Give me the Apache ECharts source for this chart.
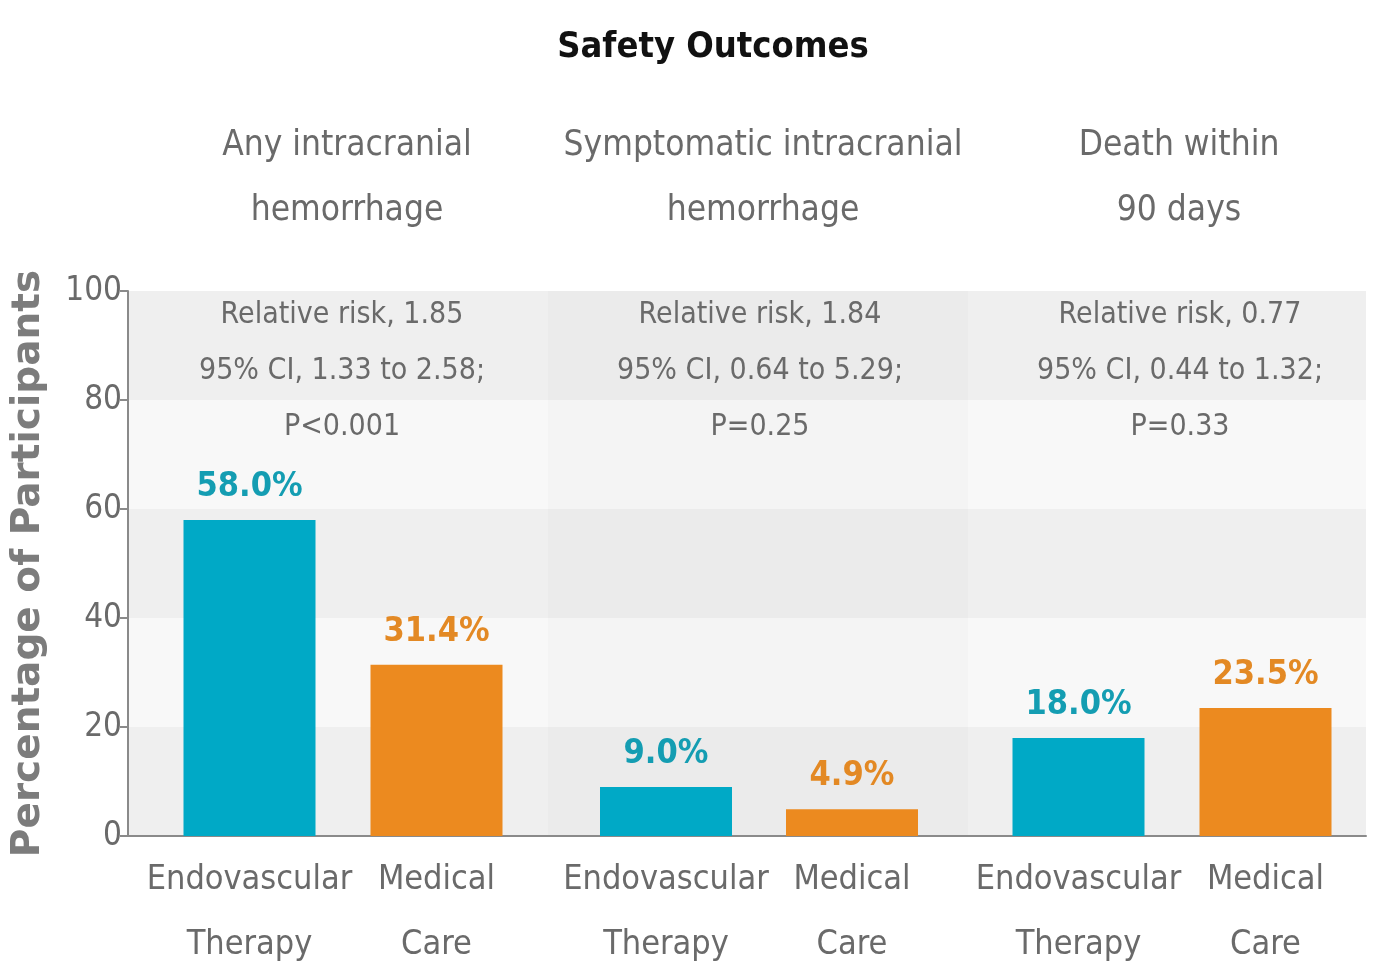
<!DOCTYPE html>
<html>
<head>
<meta charset="utf-8">
<script src="https://cdn.jsdelivr.net/npm/echarts@6/dist/echarts.min.js"></script>
<style>
  html, body { margin: 0; padding: 0; background: #fff; }
  #chart { width: 1374px; height: 977px; }
</style>
</head>
<body>
<div id="chart"></div>
<script>
// data
const categories = ['Endovascular\nTherapy', 'Medical\nCare'];
const outcomes = ['Any intracranial\nhemorrhage', 'Symptomatic intracranial\nhemorrhage', 'Death within\n90 days'];
const riskNotes = [
  'Relative risk, 1.85\n95% CI, 1.33 to 2.58;\nP<0.001',
  'Relative risk, 1.84\n95% CI, 0.64 to 5.29;\nP=0.25',
  'Relative risk, 0.77\n95% CI, 0.44 to 1.32;\nP=0.33'
];
const endovascular = [58.0, 9.0, 18.0];
const medical = [31.4, 4.9, 23.5];
const yTicks = [0, 20, 40, 60, 80, 100];

const narrow = "'DejaVu Sans Condensed', 'Liberation Sans Narrow', Roboto, sans-serif";
const teal = '#00a9c6';
const orange = '#ec8a1f';
const gray = '#6a6a6a';

// layout
const gridTop = 291, gridBottom = 141;
const panels = [[128, 548], [548, 968], [968, 1366]];
const barBoxes = [[156, 530], [573, 945], [985, 1359]];
const headerX = [342, 758, 1174];
const noteX = [337, 755, 1175];

let chartDom = document.getElementById('chart');
let myChart = echarts.init(chartDom);

let grids = [], xAxes = [], yAxes = [], series = [], titles = [];

titles.push({
  text: 'Safety Outcomes',
  left: 708,
  textAlign: 'center',
  top: 25,
  textStyle: { fontFamily: narrow, fontSize: 36, fontWeight: 'bold', color: '#111' }
});

panels.forEach((p, i) => {
  // background panel with bands
  grids.push({ left: p[0], width: p[1] - p[0], top: gridTop, bottom: gridBottom, outerBoundsMode: 'none' });
  xAxes.push({
    gridIndex: grids.length - 1, type: 'value', min: 0, max: 1,
    axisLine: { show: true, lineStyle: { color: '#8a8a8a', width: 2 } },
    axisTick: { show: false }, axisLabel: { show: false }, splitLine: { show: false }
  });
  yAxes.push({
    gridIndex: grids.length - 1, type: 'value', min: 0, max: 100, interval: 20,
    axisLine: { show: i === 0, lineStyle: { color: '#8a8a8a', width: 2 } },
    axisTick: { show: i === 0, length: 8, lineStyle: { color: '#8a8a8a', width: 2 } },
    axisLabel: {
      show: i === 0, margin: 6, fontFamily: narrow, fontSize: 33, color: gray,
      formatter: v => yTicks.indexOf(v) >= 0 ? String(v) : ''
    },
    name: i === 0 ? 'Percentage of Participants' : '',
    nameLocation: 'middle', nameGap: 80,
    nameTextStyle: { fontFamily: "'DejaVu Sans', sans-serif", fontWeight: 'bold', fontSize: 39, color: '#7c7c7c' },
    splitLine: { show: false },
    splitArea: {
      show: true,
      areaStyle: { color: i === 1 ? ['#ebebeb', '#f4f4f4'] : ['#efefef', '#f8f8f8'] }
    }
  });

  // bars
  const b = barBoxes[i];
  grids.push({ left: b[0], width: b[1] - b[0], top: gridTop, bottom: gridBottom, outerBoundsMode: 'none' });
  const gi = grids.length - 1;
  xAxes.push({
    gridIndex: gi, type: 'category', data: categories,
    axisLine: { show: false }, axisTick: { show: false },
    axisLabel: { margin: 12, fontFamily: narrow, fontSize: 34, lineHeight: 65, color: gray, interval: 0 }
  });
  yAxes.push({
    gridIndex: gi, type: 'value', min: 0, max: 100, show: false
  });
  series.push({
    type: 'bar', xAxisIndex: gi, yAxisIndex: gi, barWidth: 132,
    data: [
      { value: endovascular[i], itemStyle: { color: teal }, label: { color: '#149db2' } },
      { value: medical[i], itemStyle: { color: orange }, label: { color: '#e38924' } }
    ],
    label: {
      show: true, position: 'top', distance: 16,
      fontFamily: narrow, fontSize: 34, fontWeight: 'bold',
      formatter: p => p.value.toFixed(1) + '%'
    }
  });

  titles.push({
    text: outcomes[i], left: headerX[i], top: 108, textAlign: 'center',
    textStyle: { fontFamily: narrow, fontSize: 35, lineHeight: 65, color: gray, fontWeight: 'normal' }
  });
  titles.push({
    text: riskNotes[i], left: noteX[i], top: 282, textAlign: 'center',
    textStyle: { fontFamily: narrow, fontSize: 30, lineHeight: 56, color: gray, fontWeight: 'normal' }
  });
});

let option = {
  backgroundColor: '#fff',
  animation: false,
  title: titles,
  grid: grids,
  xAxis: xAxes,
  yAxis: yAxes,
  series: series
};
option && myChart.setOption(option);
</script>
</body>
</html>
